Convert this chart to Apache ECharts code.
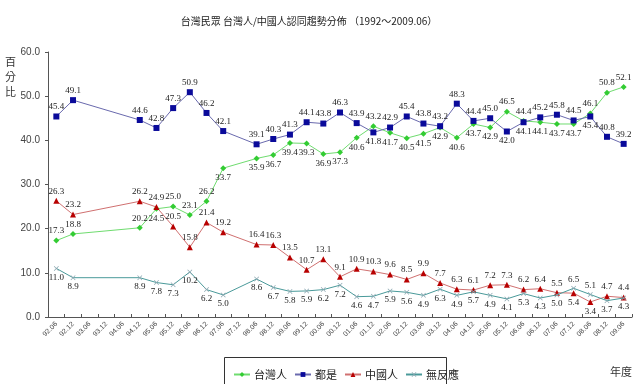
<!DOCTYPE html>
<html><head><meta charset="utf-8">
<script src="https://cdn.jsdelivr.net/npm/echarts@6/dist/echarts.min.js"></script>
<style>html,body{margin:0;padding:0;background:#fff}#c{width:640px;height:384px}</style>
</head><body><div id="c"></div>
<script>
const categories = ['92.06','92.12','93.06','93.12','94.06','94.12','95.06','95.12','96.06','96.12','97.06','97.12','98.06','98.12','99.06','99.12','00.06','00.12','01.06','01.12','02.06','02.12','03.06','03.12','04.06','04.12','05.06','05.12','06.06','06.12','07.06','07.12','08.06','08.12','09.06'];
const taiwanese = [17.3,18.8,null,null,null,20.2,24.5,25.0,23.1,26.2,33.7,null,35.9,36.7,39.4,39.3,36.9,37.3,40.6,43.2,41.7,40.5,41.5,42.9,40.6,43.7,42.9,46.5,44.4,44.1,43.7,43.7,46.1,50.8,52.1];
const both      = [45.4,49.1,null,null,null,44.6,42.8,47.3,50.9,46.2,42.1,null,39.1,40.3,41.3,44.1,43.8,46.3,43.9,41.8,42.9,45.4,43.8,43.2,48.3,44.4,45.0,42.0,44.1,45.2,45.8,44.5,45.4,40.8,39.2];
const chinese   = [26.3,23.2,null,null,null,26.2,24.9,20.5,15.8,21.4,19.2,null,16.4,16.3,13.5,10.7,13.1,9.1,10.9,10.3,9.6,8.5,9.9,7.7,6.3,6.1,7.2,7.3,6.2,6.4,5.5,5.4,3.4,4.7,4.4];
const noResp    = [11.0,8.9,null,null,null,8.9,7.8,7.3,10.2,6.2,5.0,null,8.6,6.7,5.8,5.9,6.2,7.2,4.6,4.7,5.9,5.6,4.9,6.3,4.9,5.7,4.9,4.1,5.3,4.3,5.0,6.5,5.1,3.7,4.3];
const seriesNames = ['台灣人','都是','中國人','無反應'];
const yTicks = [0,10,20,30,40,50,60];

const all = [taiwanese, both, chinese, noResp];
const partner = [1,0,3,2];
const pairThr = [10,10,Infinity,Infinity];
function labelPos(si, i){
  const v = all[si][i];
  for (let j=0;j<4;j++){
    if (j===si) continue;
    const w = all[j][i];
    if (w==null) continue;
    const d = w - v;
    const thr = (j===partner[si]) ? pairThr[si] : 1;
    if (d>0 && d<thr) return 'bottom';
  }
  return 'top';
}
function build(si){
  return all[si].map((v,i)=> v==null ? null : {value:v, label:{position:labelPos(si,i)}});
}
const xSym = 'path://M0,1L1,0L5,4L9,0L10,1L6,5L10,9L9,10L5,6L1,10L0,9L4,5Z';
const styles = [
  {line:'#6fdc6f', mark:'#33cc33', symbol:'diamond', size:6},
  {line:'#6a6aae', mark:'#0a0a9a', symbol:'rect', size:6},
  {line:'#d07070', mark:'#b80000', symbol:'triangle', size:6},
  {line:'#4a9a9a', mark:'#8aa6b0', symbol:xSym, size:5}
];
const labelCommon = {show:true, fontSize:9, fontFamily:'Liberation Serif', color:'#222', distance:2, formatter:p=>Number(p.value).toFixed(1)};
const series = seriesNames.map((n,si)=>({
  name:n, type:'line', data:build(si), connectNulls:true,
  symbol:styles[si].symbol, symbolSize:styles[si].size,
  lineStyle:{color:styles[si].line, width:1},
  itemStyle:{color:styles[si].mark},
  label:labelCommon, z: 2+si
}));

const chart = echarts.init(document.getElementById('c'), null, {renderer:'canvas'});
chart.setOption({
  animation:false,
  backgroundColor:'#fff',
  title:{text:'台灣民眾 台灣人/中國人認同趨勢分佈 （1992～2009.06）', left:304, textAlign:'center', top:11,
    textStyle:{fontSize:10, fontWeight:'normal', color:'#222', fontFamily:'Noto Sans CJK TC'}},
  graphic:[
    {type:'text', left:5, top:54, style:{text:'百\n分\n比', fontSize:11, lineHeight:15, fill:'#333', fontFamily:'Noto Sans CJK TC'}},
    {type:'text', left:610, top:366, style:{text:'年度', fontSize:11, fill:'#333', fontFamily:'Noto Sans CJK TC'}},
    {type:'rect', shape:{x:224.5, y:357.5, width:222, height:30}, style:{fill:'none', stroke:'#333', lineWidth:1}}
  ],
  legend:{data:seriesNames, left:228, top:364, itemGap:7, itemWidth:16, itemHeight:6,
    textStyle:{fontSize:11, color:'#222', fontFamily:'Noto Sans CJK TC', padding:[0,0,0,-1]}},
  grid:{left:48, right:8, top:52, bottom:67},
  xAxis:{type:'category', data:categories, boundaryGap:true,
    axisLine:{lineStyle:{color:'#555'}},
    axisTick:{show:true, interval:0, length:3, inside:true, lineStyle:{color:'#555'}},
    axisLabel:{interval:0, rotate:45, fontSize:7, color:'#444', fontFamily:'Liberation Sans', margin:6},
    splitLine:{show:false}},
  yAxis:{type:'value', min:0, max:60, interval:10,
    axisLine:{show:true, lineStyle:{color:'#555'}},
    axisTick:{show:true, length:3, lineStyle:{color:'#555'}},
    axisLabel:{fontSize:10, color:'#444', fontFamily:'Liberation Sans', formatter:v=>v.toFixed(1), margin:8},
    splitLine:{show:false}},
  series:series
});
</script></body></html>
